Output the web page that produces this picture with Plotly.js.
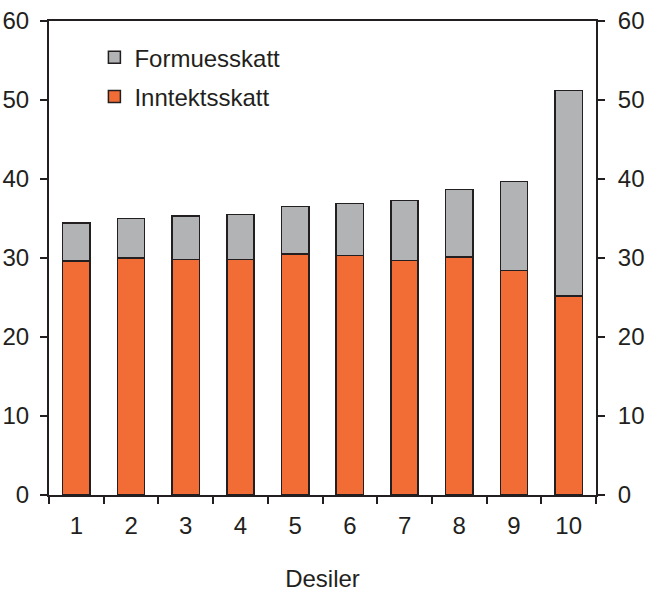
<!DOCTYPE html>
<html>
<head>
<meta charset="utf-8">
<script src="https://cdn.plot.ly/plotly-3.0.1.min.js"></script>
<style>html,body{margin:0;padding:0;background:#fff;}#chart{width:655px;height:592px;}</style>
</head>
<body>
<div id="chart"></div>
<script>
const categories = ['1','2','3','4','5','6','7','8','9','10'];
const inntektsskatt = [29.6, 30.0, 29.8, 29.8, 30.5, 30.3, 29.7, 30.1, 28.4, 25.2];
const totalSkatt = [34.4, 35.0, 35.3, 35.5, 36.5, 36.9, 37.3, 38.7, 39.7, 51.2];
const formuesskatt = totalSkatt.map((t, i) => +(t - inntektsskatt[i]).toFixed(1));
const yTicks = [0, 10, 20, 30, 40, 50, 60];

const font = {family: 'Liberation Sans, Arial, sans-serif', size: 24, color: '#231f20'};
const lineCol = '#231f20';

const traces = [
  {type: 'bar', name: 'Inntektsskatt', x: categories, y: inntektsskatt,
   marker: {color: '#f26c35', line: {color: lineCol, width: 1.5}}, legendgroup: 'b', legendrank: 2},
  {type: 'bar', name: 'Formuesskatt', x: categories, y: formuesskatt,
   marker: {color: '#b2b3b5', line: {color: lineCol, width: 1.5}}, legendgroup: 'a', legendrank: 1},
  {type: 'scatter', mode: 'none', x: categories, y: totalSkatt, yaxis: 'y2',
   showlegend: false, hoverinfo: 'skip'}
];

const layout = {
  width: 655, height: 592,
  margin: {l: 49, r: 59, t: 21, b: 97},
  paper_bgcolor: '#fff', plot_bgcolor: '#fff',
  font: font,
  barmode: 'stack', bargap: 0.5,
  showlegend: true,
  legend: {x: 0.083, y: 0.97, xanchor: 'left', yanchor: 'top', traceorder: 'grouped',
           tracegroupgap: 5, font: font, bgcolor: 'rgba(0,0,0,0)'},
  xaxis: {type: 'category', showline: true, linecolor: lineCol, linewidth: 2, mirror: true,
          ticks: 'outside', tickson: 'boundaries', ticklen: 7, tickwidth: 2, tickcolor: lineCol,
          showgrid: false, zeroline: false, ticklabelstandoff: 8,
          title: {text: 'Desiler', font: font, standoff: 34}},
  yaxis: {range: [0, 60], tickvals: yTicks, showline: true, linecolor: lineCol, linewidth: 2,
          ticks: 'outside', ticklen: 7, tickwidth: 2, tickcolor: lineCol, showgrid: false,
          zeroline: false, ticklabelstandoff: 6},
  yaxis2: {range: [0, 60], tickvals: yTicks, overlaying: 'y', side: 'right', showline: true,
           linecolor: lineCol, linewidth: 2, ticks: 'outside', ticklen: 7, tickwidth: 2,
           tickcolor: lineCol, showgrid: false, zeroline: false, ticklabelstandoff: 8}
};

Plotly.newPlot('chart', traces, layout, {displayModeBar: false, staticPlot: true});
</script>
</body>
</html>
